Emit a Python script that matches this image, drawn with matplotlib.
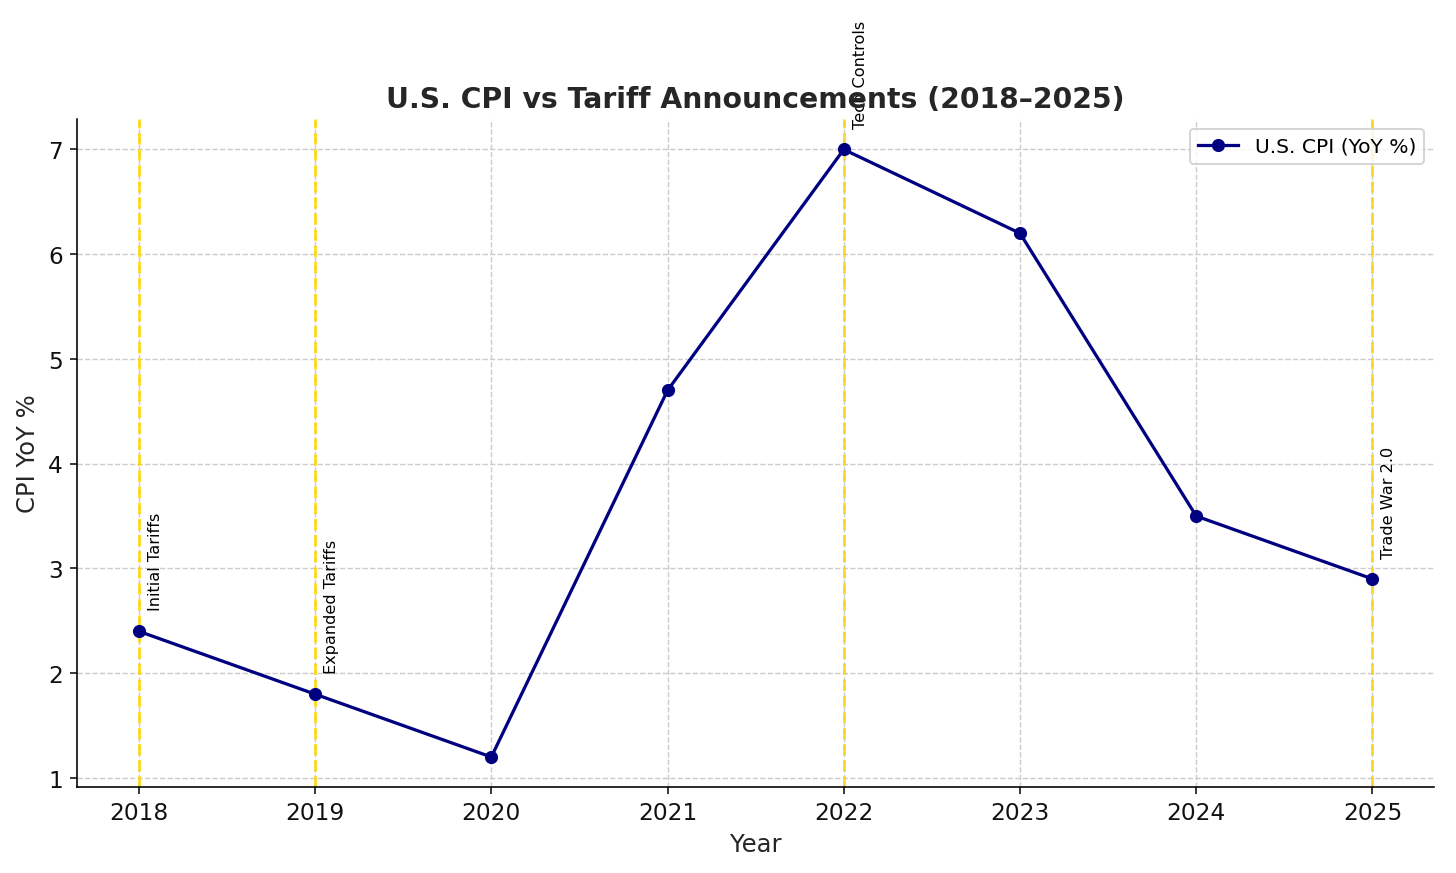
import matplotlib.pyplot as plt

years = [2018, 2019, 2020, 2021, 2022, 2023, 2024, 2025]
cpi = [2.4, 1.8, 1.2, 4.7, 7.0, 6.2, 3.5, 2.9]

event_years = [2018, 2019, 2022, 2025]
event_labels = ['Initial Tariffs', 'Expanded Tariffs', 'Tech Controls', 'Trade War 2.0']

fig = plt.figure(figsize=(10, 6), dpi=145.6, facecolor='w')
ax = fig.add_subplot()
fig.subplots_adjust(left=0.053, right=0.985, top=0.863, bottom=0.098)

ax.plot(years, cpi, marker='o', color='navy', linewidth=1.6, markersize=5.5,
        label='U.S. CPI (YoY %)', zorder=3)

for yr, lab in zip(event_years, event_labels):
    ax.axvline(x=yr, color='gold', linestyle='--', linewidth=1.5, alpha=0.8, zorder=2)
    val = cpi[years.index(yr)]
    ax.text(yr + 0.05, val + 0.2, lab, rotation=90, fontsize=8, va='bottom', ha='left')

ax.set_title('U.S. CPI vs Tariff Announcements (2018–2025)', fontsize=14,
             fontweight='bold', color='#262626')
ax.set_xlabel('Year', fontsize=12, color='#262626')
ax.set_ylabel('CPI YoY %', fontsize=12, color='#262626')
ax.set_xticks(years)
ax.tick_params(labelsize=11.5, colors='#111111')
ax.grid(True, linestyle='--', color='#cccccc', linewidth=0.7)
ax.set_axisbelow(True)
for side in ['top', 'right']:
    ax.spines[side].set_visible(False)

ax.legend(loc='upper right', fontsize=10)

plt.savefig('out.png')
